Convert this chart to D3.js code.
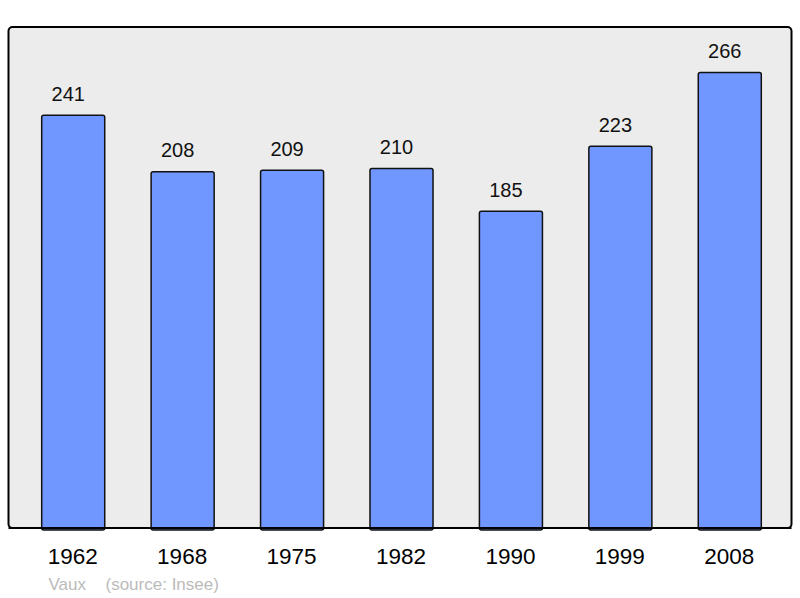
<!DOCTYPE html>
<html>
<head>
<meta charset="utf-8">
<script src="https://cdn.jsdelivr.net/npm/d3@7"></script>
<style>
  body { margin: 0; background: #fff; }
  text { font-family: "Liberation Sans", Arial, sans-serif; }
</style>
</head>
<body>
<div class="chart"></div>
<script>
// data
let years = ["1962", "1968", "1975", "1982", "1990", "1999", "2008"];
let population = [241, 208, 209, 210, 185, 223, 266];
let townName = "Vaux";
let sourceText = "(source: Insee)";

let chart = {};

chart.width = 800;
chart.height = 598;

chart.svg = d3.select(".chart").append("svg")
    .attr("width", chart.width)
    .attr("height", chart.height);

// frame of the plot area
chart.frame = { left: 8.5, top: 27, right: 791.5, bottom: 528 };

chart.svg.append("rect")
    .attr("x", chart.frame.left)
    .attr("y", chart.frame.top)
    .attr("width", chart.frame.right - chart.frame.left)
    .attr("height", chart.frame.bottom - chart.frame.top)
    .attr("rx", 4)
    .style("fill", "#ececec")
    .style("stroke", "#000")
    .style("stroke-width", 2);

chart.x = d3.scaleBand()
    .domain(years)
    .range([18.5, 784.5])
    .paddingInner(0.424)
    .paddingOuter(0.212);

chart.y = d3.scaleLinear()
    .domain([0, d3.max(population) * 1.1])
    .range([chart.frame.bottom, chart.frame.top]);

let rows = years.map((y, i) => ({ year: y, value: population[i] }));

chart.svg.selectAll("rect.bar")
    .data(rows).enter()
    .append("rect")
    .attr("class", "bar")
    .attr("x", d => chart.x(d.year))
    .attr("y", d => chart.y(d.value))
    .attr("width", chart.x.bandwidth())
    .attr("height", d => chart.y(0) - chart.y(d.value) + 2)
    .attr("rx", 2)
    .style("fill", "#7096ff")
    .style("stroke", "#111")
    .style("stroke-width", 1.5);

// redraw bottom edge of frame over the bars
chart.svg.append("line")
    .attr("x1", chart.frame.left)
    .attr("x2", chart.frame.right)
    .attr("y1", chart.frame.bottom)
    .attr("y2", chart.frame.bottom)
    .style("stroke", "#000")
    .style("stroke-width", 2);

// value labels sit a little left of the bar centre in the original
chart.svg.selectAll("text.value")
    .data(rows).enter()
    .append("text")
    .attr("class", "value")
    .attr("x", d => chart.x(d.year) + chart.x.bandwidth() / 2 - 5)
    .attr("y", d => chart.y(d.value) - 14.5)
    .attr("text-anchor", "middle")
    .style("font-size", "20px")
    .style("fill", "#111")
    .text(d => d.value);

chart.svg.selectAll("text.year")
    .data(rows).enter()
    .append("text")
    .attr("class", "year")
    .attr("x", d => chart.x(d.year) + chart.x.bandwidth() / 2 - 0.5)
    .attr("y", 564)
    .attr("text-anchor", "middle")
    .style("font-size", "22.5px")
    .style("fill", "#000")
    .text(d => d.year);

chart.svg.append("text")
    .attr("x", 48.5)
    .attr("y", 589.5)
    .style("font-size", "17px")
    .style("fill", "#bbb")
    .text(townName);

chart.svg.append("text")
    .attr("x", 105.5)
    .attr("y", 589.5)
    .style("font-size", "17px")
    .style("fill", "#bbb")
    .text(sourceText);
</script>
</body>
</html>
